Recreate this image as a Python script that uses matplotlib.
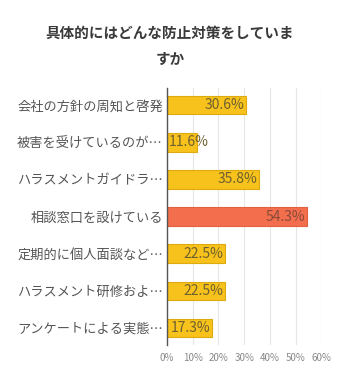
import matplotlib.pyplot as plt
from matplotlib.ticker import PercentFormatter

plt.rcParams['font.family'] = ['Noto Sans CJK JP', 'DejaVu Sans']

categories = ['会社の方針の周知と啓発', '被害を受けているのが…', 'ハラスメントガイドラ…',
              '相談窓口を設けている', '定期的に個人面談など…', 'ハラスメント研修およ…',
              'アンケートによる実態…']
values = [30.6, 11.6, 35.8, 54.3, 22.5, 22.5, 17.3]
highlight = 3
xticks = [0, 10, 20, 30, 40, 50, 60]

fig = plt.figure(figsize=(3.56, 3.75), dpi=100)
ax = fig.add_axes([0.469, 0.08, 0.434, 0.685])

colors = ['#F26E4C' if i == highlight else '#F7C21B' for i in range(len(values))]
edges = ['#E0603F' if i == highlight else '#DDAA10' for i in range(len(values))]
y = list(range(len(values)))
ax.barh(y, values, height=0.5, color=colors, edgecolor=edges, linewidth=0.8, zorder=3)

for i, v in enumerate(values):
    tc = '#8a4a3a' if i == highlight else '#6e6030'
    if v < 15:
        # label wider than bar: start at the bar's base
        ax.text(0.6, i, f'{v}%', ha='left', va='center', fontsize=10, color=tc, zorder=4)
    else:
        ax.text(v - 0.6, i, f'{v}%', ha='right', va='center', fontsize=10, color=tc, zorder=4)

ax.set_xlim(0, 60)
ax.set_ylim(6.46, -0.46)
ax.set_xticks(xticks)
ax.xaxis.set_major_formatter(PercentFormatter(decimals=0))
ax.set_yticks(y)
ax.set_yticklabels(categories, fontsize=9.5, color='#555555')
ax.tick_params(axis='x', labelsize=7, colors='#888888', length=0, pad=6)
ax.tick_params(axis='y', length=0, pad=3)
ax.grid(axis='x', color='#e6e6e6', linewidth=0.8, zorder=0)
for s in ['top', 'right', 'bottom']:
    ax.spines[s].set_visible(False)
ax.spines['left'].set_color('#555555')
ax.spines['left'].set_linewidth(1.0)
ax.spines['left'].set_zorder(5)

fig.text(0.478, 0.912, '具体的にはどんな防止対策をしていま', ha='center', va='center',
         fontsize=10.5, fontweight='bold', color='#3a3a3a')
fig.text(0.478, 0.842, 'すか', ha='center', va='center',
         fontsize=10.5, fontweight='bold', color='#3a3a3a')

fig.savefig('out.png', dpi=100)
